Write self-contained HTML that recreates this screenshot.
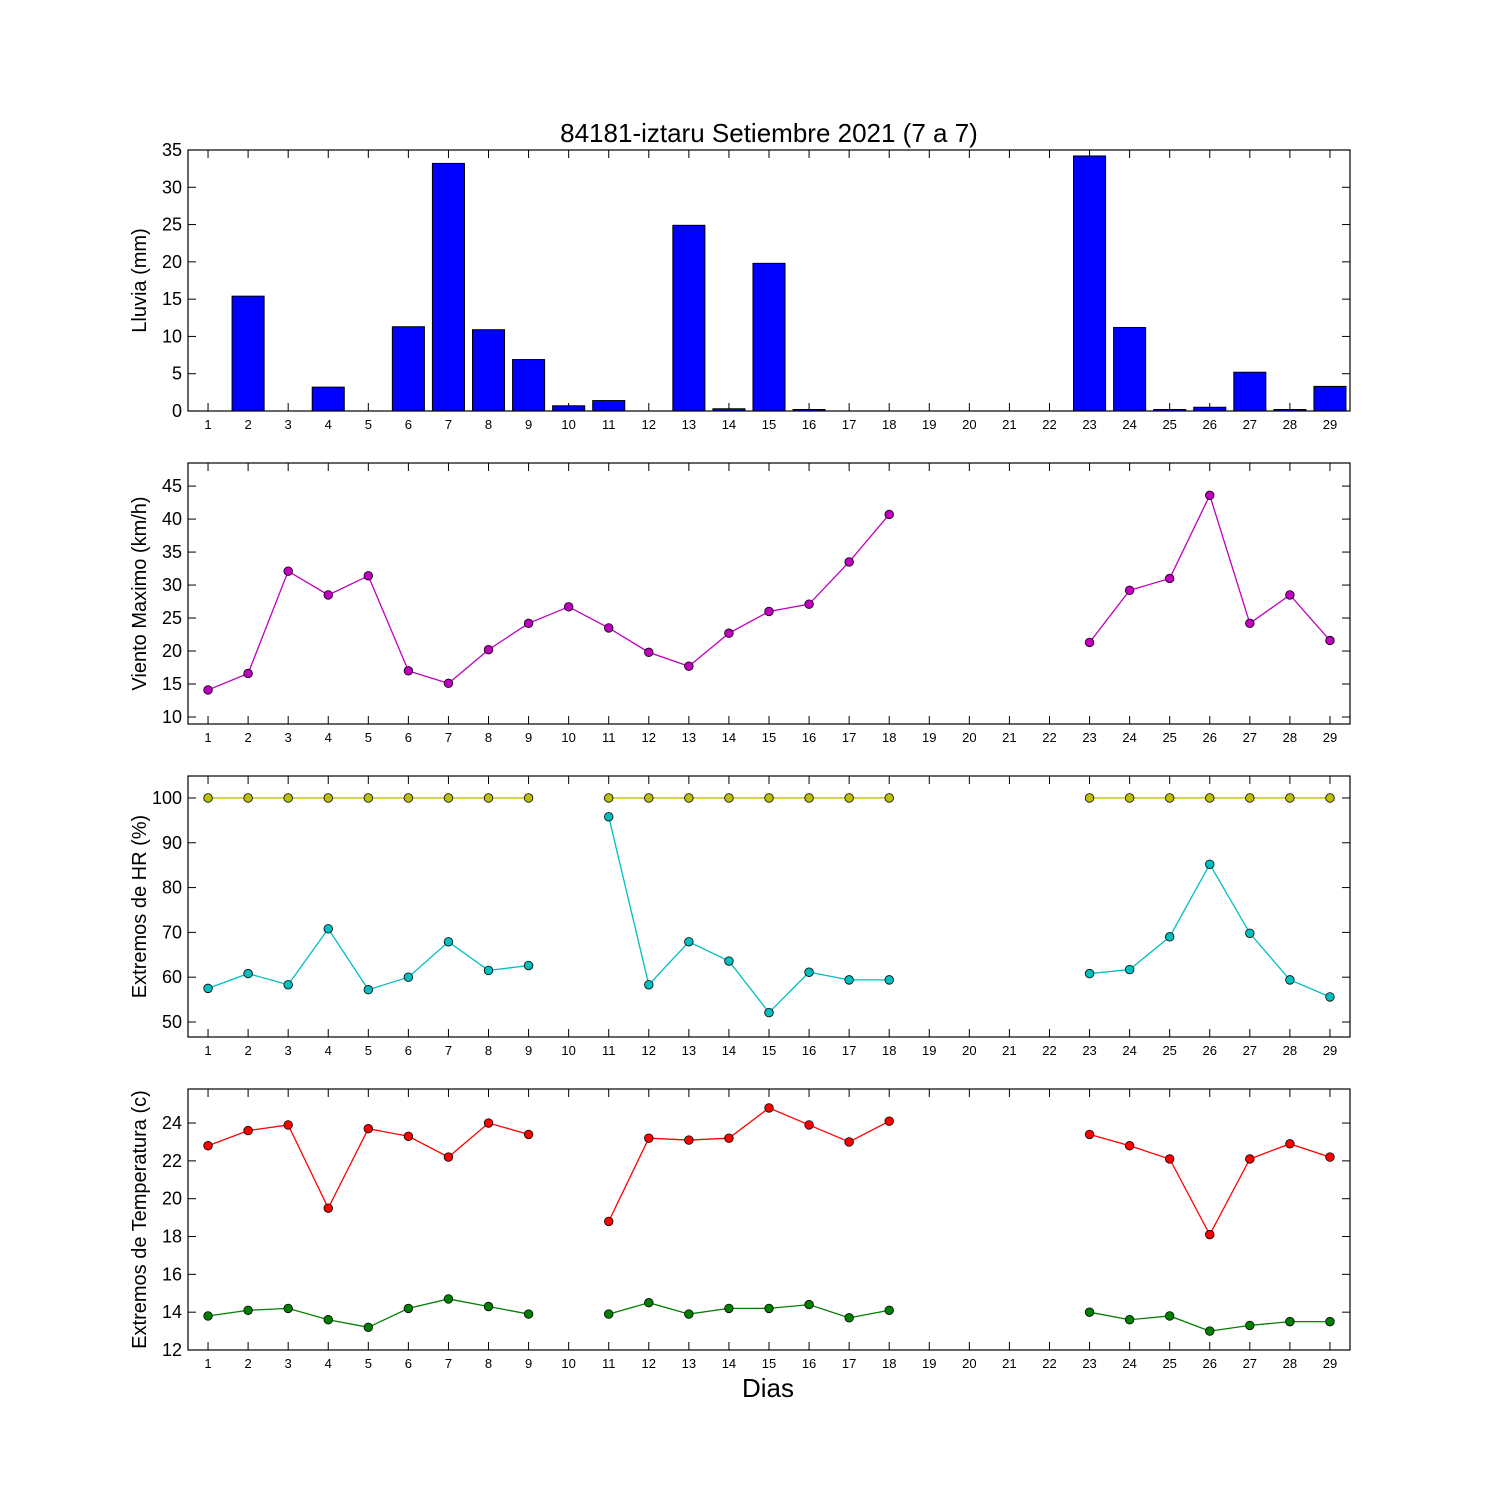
<!DOCTYPE html>
<html><head><meta charset="utf-8"><style>
body{margin:0;background:#fff}
svg{display:block;font-family:"Liberation Sans","DejaVu Sans",sans-serif}
</style></head><body>
<svg id="chart" width="1500" height="1500" viewBox="0 0 1500 1500" xmlns="http://www.w3.org/2000/svg">
<rect width="1500" height="1500" fill="#fff"/>
<text x="769" y="142" font-size="26" text-anchor="middle">84181-iztaru Setiembre 2021  (7 a 7)</text>
<text x="768" y="1397" font-size="26" text-anchor="middle">Dias</text>
</svg>
<script>
const days = [1,2,3,4,5,6,7,8,9,10,11,12,13,14,15,16,17,18,19,20,21,22,23,24,25,26,27,28,29];
const rain = [0,15.4,0,3.2,0,11.3,33.2,10.9,6.9,0.7,1.4,0,24.9,0.3,19.8,0.2,0,0,null,null,null,null,34.2,11.2,0.2,0.5,5.2,0.2,3.3];
const wind = [14.1,16.6,32.1,28.5,31.4,17.0,15.1,20.2,24.2,26.7,23.5,19.8,17.7,22.7,26.0,27.1,33.5,40.7,null,null,null,null,21.3,29.2,31.0,43.6,24.2,28.5,21.6];
const hrMax = [100,100,100,100,100,100,100,100,100,null,100,100,100,100,100,100,100,100,null,null,null,null,100,100,100,100,100,100,100];
const hrMin = [57.5,60.8,58.3,70.8,57.2,60.0,67.9,61.5,62.6,null,95.8,58.3,67.9,63.6,52.1,61.1,59.4,59.4,null,null,null,null,60.8,61.7,69.0,85.2,69.8,59.4,55.6];
const tMax = [22.8,23.6,23.9,19.5,23.7,23.3,22.2,24.0,23.4,null,18.8,23.2,23.1,23.2,24.8,23.9,23.0,24.1,null,null,null,null,23.4,22.8,22.1,18.1,22.1,22.9,22.2];
const tMin = [13.8,14.1,14.2,13.6,13.2,14.2,14.7,14.3,13.9,null,13.9,14.5,13.9,14.2,14.2,14.4,13.7,14.1,null,null,null,null,14.0,13.6,13.8,13.0,13.3,13.5,13.5];
const rainTicks = [0,5,10,15,20,25,30,35];
const windTicks = [10,15,20,25,30,35,40,45];
const hrTicks = [50,60,70,80,90,100];
const tTicks = [12,14,16,18,20,22,24];

const NS="http://www.w3.org/2000/svg";
const svg=document.getElementById('chart');
const L=188,R=1350;
const xs=d=>L+(d-0.5)/29*(R-L);
function mk(tag,attrs,parent){const e=document.createElementNS(NS,tag);for(const k in attrs)e.setAttribute(k,attrs[k]);(parent||svg).appendChild(e);return e;}

function panel(name,top,bot,ymin,ymax,ticks,label){
  const g=mk('g',{});
  
  
  const ys=v=>bot-(v-ymin)/(ymax-ymin)*(bot-top);
  for(const t of ticks){
    const y=ys(t);
    mk('line',{x1:L,x2:L+8,y1:y,y2:y,stroke:'#000'},g);
    mk('line',{x1:R-8,x2:R,y1:y,y2:y,stroke:'#000'},g);
    const tx=mk('text',{x:L-6,y:y+6,'font-size':18,'text-anchor':'end'},g);
    tx.textContent=t;
    
    
  }
  for(const d of days){
    const x=xs(d);
    mk('line',{x1:x,x2:x,y1:bot,y2:bot-8,stroke:'#000'},g);
    mk('line',{x1:x,x2:x,y1:top,y2:top+8,stroke:'#000'},g);
    const tx=mk('text',{x:x,y:bot+18,'font-size':13,'text-anchor':'middle'},g);
    tx.textContent=d;
    
    
  }
  const lb=mk('text',{transform:`translate(146,${(top+bot)/2}) rotate(-90)`,'font-size':20,'text-anchor':'middle'},g);
  lb.textContent=label;
  
  
  return {g,ys,top,bot};
}
function frame(p){
  const r=mk('rect',{x:L,y:p.top,width:R-L,height:p.bot-p.top,fill:'none',stroke:'#000','stroke-width':1.2},p.g);
  
  
}
function series(p,vals,color,name){
  let seg=[];const segs=[];
  vals.forEach((v,i)=>{if(v==null){if(seg.length)segs.push(seg);seg=[];}else seg.push([xs(days[i]),p.ys(v)]);});
  if(seg.length)segs.push(seg);
  for(const s of segs){
    const pl=mk('polyline',{points:s.map(q=>q.join(',')).join(' '),fill:'none',stroke:color,'stroke-width':1.3},p.g);
    
    
  }
  vals.forEach((v,i)=>{if(v==null)return;
    const c=mk('circle',{cx:xs(days[i]),cy:p.ys(v),r:4.3,fill:color,stroke:'#000','stroke-width':0.8},p.g);
    
    
  });
}

const p1=panel('rain',150,411,0,35,rainTicks,'Lluvia (mm)');
rain.forEach((v,i)=>{if(v==null)return;
  const x=xs(days[i]),w=0.8*(R-L)/29,y=p1.ys(v);
  const b=mk('rect',{x:x-w/2,y:y,width:w,height:p1.bot-y,fill:'#0000ff',stroke:'#000','stroke-width':1},p1.g);
  
  
});
frame(p1);

const p2=panel('wind',463,724,8.94,48.5,windTicks,'Viento Maximo (km/h)');
series(p2,wind,'#bf00bf','wind-max');frame(p2);

const p3=panel('humidity',776,1037,46.65,104.9,hrTicks,'Extremos de HR (%)');
series(p3,hrMax,'#bfbf00','hr-max');series(p3,hrMin,'#00bfbf','hr-min');frame(p3);

const p4=panel('temperature',1089,1350,12,25.8,tTicks,'Extremos de Temperatura (c)');
series(p4,tMax,'#ff0000','temp-max');series(p4,tMin,'#008000','temp-min');frame(p4);
</script>
</body></html>
